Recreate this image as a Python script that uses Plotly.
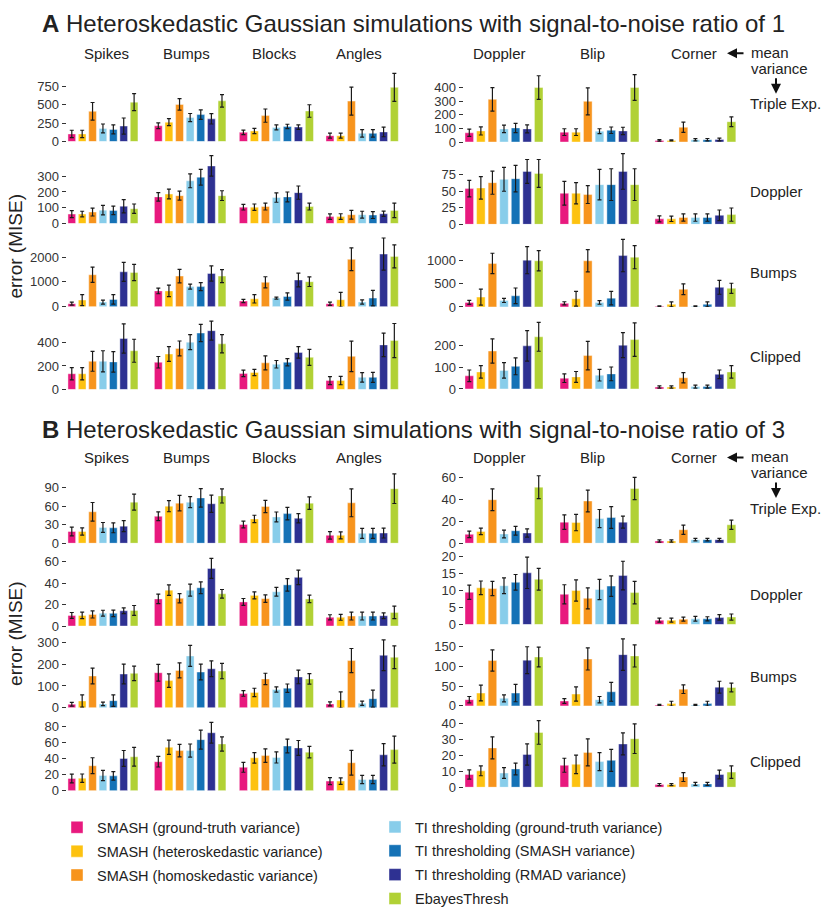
import plotly.graph_objects as go

methods = ["SMASH (ground-truth variance)", "SMASH (heteroskedastic variance)",
           "SMASH (homoskedastic variance)", "TI thresholding (ground-truth variance)",
           "TI thresholding (SMASH variance)", "TI thresholding (RMAD variance)", "EbayesThresh"]
colors = ["#E8197E", "#FDC210", "#F7941D", "#88CDEA", "#1572B6", "#2E3192", "#B1D135"]
test_functions = ["Spikes", "Bumps", "Blocks", "Angles", "Doppler", "Blip", "Corner"]
variance_functions = ["Triple Exp.", "Doppler", "Bumps", "Clipped"]

# ---- SNR = 1 (panel A): one list of 7 method values per test function ----
a_triple_mean = [[103, 103, 410, 178, 165, 210, 535], [214, 263, 504, 326, 366, 308, 553],
                 [125, 143, 352, 192, 205, 196, 415], [80, 80, 549, 111, 111, 130, 736],
                 [68, 82, 315, 97, 104, 97, 402], [73, 73, 300, 80, 87, 82, 402],
                 [12, 12, 109, 17, 17, 19, 150]]
a_triple_err = [[50, 50, 120, 60, 60, 110, 115], [40, 48, 78, 55, 65, 70, 85],
                [30, 36, 90, 33, 30, 30, 85], [35, 35, 190, 50, 50, 65, 190],
                [27, 30, 87, 28, 34, 30, 87], [25, 25, 100, 18, 24, 27, 95],
                [5, 4, 38, 8, 9, 10, 36]]
a_doppler_mean = [[60, 60, 73, 85, 83, 110, 94], [169, 187, 177, 271, 294, 365, 177],
                  [104, 104, 108, 165, 169, 196, 108], [44, 44, 56, 56, 54, 62, 83],
                  [54, 55, 63, 68, 69, 80, 77], [47, 47, 45, 60, 60, 80, 60],
                  [8.3, 8.3, 10.3, 10.3, 10.3, 13.7, 14.7]]
a_doppler_err = [[22, 18, 25, 30, 27, 42, 30], [27, 31, 29, 44, 50, 65, 31],
                 [18, 20, 22, 30, 31, 42, 22], [17, 18, 28, 22, 22, 17, 46],
                 [12.5, 17, 17.5, 18, 20, 18, 21], [18, 16, 13.5, 23, 24, 27, 24],
                 [4.5, 4, 5.5, 5.6, 5.6, 8, 10]]
a_bumps_mean = [[119, 265, 1287, 186, 292, 1407, 1380], [637, 637, 1234, 809, 809, 1340, 1234],
                [226, 318, 982, 345, 411, 1075, 1008], [119, 279, 1911, 186, 345, 2123, 2030],
                [99, 213, 943, 142, 241, 1014, 1000], [78, 177, 1000, 99, 191, 1113, 1078],
                [14, 57, 383, 14, 57, 425, 404]]
a_bumps_err = [[60, 220, 310, 80, 190, 385, 330], [115, 230, 270, 100, 165, 310, 260],
               [65, 170, 225, 40, 145, 280, 195], [65, 300, 460, 85, 310, 650, 465],
               [45, 175, 220, 45, 170, 295, 220], [35, 160, 240, 40, 145, 350, 250],
               [10, 55, 115, 8, 55, 150, 110]]
a_clipped_mean = [[134, 134, 240, 240, 235, 434, 330], [232, 302, 350, 403, 481, 501, 389],
                  [137, 145, 227, 215, 232, 316, 274], [76, 76, 282, 103, 103, 380, 417],
                  [61, 79, 176, 86, 105, 200, 242], [50, 56, 155, 64, 70, 203, 229],
                  [9, 9, 52, 11, 11, 68, 79]]
a_clipped_err = [[52, 52, 85, 90, 88, 125, 98], [49, 63, 63, 64, 74, 81, 78],
                 [28, 27, 60, 32, 31, 49, 68], [34, 36, 130, 41, 43, 100, 145],
                 [27, 29, 56, 36, 39, 71, 67], [20, 25, 66, 27, 32, 58, 78],
                 [5, 5, 24, 7, 7, 20, 29]]

# ---- SNR = 3 (panel B) ----
b_triple_mean = [[19, 19, 51, 25.6, 25, 27.7, 66.6], [43.7, 60, 65, 66.6, 73.5, 64, 76.7],
                 [30.4, 39.4, 59.6, 42.6, 48, 40.5, 65], [12.8, 12.8, 65.5, 16, 16, 16.5, 88.4],
                 [8.2, 10.9, 40, 8.5, 11.5, 9.4, 51.5], [19.4, 19, 38.8, 22.7, 23.6, 19.4, 50.3],
                 [2.1, 2.1, 12.4, 3.3, 3.3, 3.3, 17]]
b_triple_err = [[7, 6, 15, 8, 8, 9, 13], [7, 9, 12.5, 9, 15, 14, 11.5],
                [5.6, 6, 10, 8, 10, 7.5, 10], [6, 5.6, 22.6, 8, 8, 8, 24],
                [3, 3, 10, 3.5, 4, 3.8, 10.5], [6.7, 7.5, 10, 8.3, 10, 5.6, 10.3],
                [1, 1, 4.2, 1.2, 1.2, 1.2, 4.2]]
b_doppler_mean = [[9.9, 9.9, 10.8, 12, 11.8, 14.2, 14.5], [25.2, 33.4, 25.8, 33.4, 35.6, 53.6, 30],
                  [22.4, 28.5, 25.5, 31.9, 38.3, 45.3, 25.2], [8.1, 8.1, 9.3, 9.3, 9.3, 9.6, 12.7],
                  [9.5, 10.8, 10.6, 11.4, 12.4, 15.2, 13.3], [8.9, 10, 7.7, 10.3, 11.3, 14.4, 9.4],
                  [1.3, 1.3, 1.6, 1.7, 1.7, 2.1, 2.2]]
b_doppler_err = [[2.7, 3, 3.3, 2.7, 3, 2.7, 4.6], [4.4, 4.9, 4.3, 5.5, 5.5, 9.3, 4],
                 [3.2, 3.2, 3.4, 4.1, 5.8, 6.7, 3.5], [2.4, 2.7, 3.7, 3.7, 3.7, 2.7, 5.8],
                 [2.1, 2, 2.1, 2.3, 2.3, 4.6, 3.2], [2.8, 3.1, 3.1, 3, 3, 4.2, 3.3],
                 [0.6, 0.6, 0.6, 0.7, 0.6, 0.8, 0.9]]
b_bumps_mean = [[16.5, 31.5, 145.5, 18, 33, 154.5, 157.5], [160.5, 124.5, 171, 237, 163.5, 178.5, 168],
                [66, 70.5, 132, 84, 90, 141, 132], [18, 36, 216, 21, 42, 240, 231],
                [15.8, 32.5, 115, 19.2, 32.5, 116, 124], [12.5, 30, 119, 15.8, 35.8, 130, 126.7],
                [2.5, 5.8, 42.5, 2.5, 5.8, 47.5, 46.7]]
b_bumps_err = [[9, 28, 36, 8, 26, 45, 33], [38, 31, 34, 48, 36, 36, 35],
               [13, 19, 26, 12, 19, 31, 24], [9, 37, 55, 10, 39, 70, 52],
               [8, 20, 27, 9, 22, 34, 25], [6, 18, 28, 8, 24, 40, 28],
               [1.5, 6, 11, 1.5, 6, 15, 11]]
b_clipped_mean = [[15.3, 15.7, 31.3, 19, 18.6, 40.4, 42.5], [36.3, 54.4, 50.3, 50.3, 64, 72.6, 58.6],
                  [29.3, 41.2, 44, 41.7, 56, 53.6, 48.3], [12, 12, 35, 14, 14, 45, 51.5],
                  [8, 10.3, 24.7, 8.9, 11.5, 20.6, 34.4], [13.8, 14.4, 21.9, 16.1, 16.9, 27.2, 30.5],
                  [1.65, 1.65, 6.4, 2.1, 2.1, 8, 9.5]]
b_clipped_err = [[5.4, 5.2, 10, 6.4, 5.4, 10, 11.8], [6.6, 9, 7.8, 8.2, 12, 13, 8.9],
                 [6.2, 6.6, 8.5, 7, 8.7, 9.3, 7.2], [4.3, 4, 15.5, 5.2, 5.2, 14, 17],
                 [2.9, 3.1, 6.9, 3.4, 3.7, 6.7, 7.4], [4.4, 5.8, 8.5, 5.7, 6.9, 6.9, 9.3],
                 [0.7, 0.6, 2.8, 1, 1, 2.7, 3.9]]

# y tick values, [left group, right group] per variance row
a_ticks = [[[0, 250, 500, 750], [0, 100, 200, 300, 400]], [[0, 100, 200, 300], [0, 25, 50, 75]],
           [[0, 1000, 2000], [0, 500, 1000]], [[0, 200, 400], [0, 100, 200]]]
b_ticks = [[[0, 30, 60, 90], [0, 20, 40, 60]], [[0, 20, 40, 60], [0, 5, 10, 15, 20]],
           [[0, 100, 200, 300], [0, 50, 100, 150]], [[0, 20, 40, 60, 80], [0, 10, 20, 30, 40]]]

# ---------------- layout geometry (pixels) ----------------
W, H = 833, 915
FONT = "Liberation Sans, Arial, Helvetica, sans-serif"
col_px = [(66.6, 139.3), (153, 227.3), (237.9, 314.9), (324.6, 399.7),
          (463.5, 544.5), (558.5, 640.5), (653.4, 737.4)]
# (top px, zero px, y max) for [left, right] group per row
a_geom = [[(66, 138.5, 971), (66, 139, 531)], [(150, 221.7, 448), (150, 222.5, 108)],
          [(234, 306, 2866), (234, 306.3, 1544)], [(318, 390, 605), (318, 389.5, 327)]]
b_geom = [[(474, 546, 115), (474, 546, 65.2)], [(558, 630, 66), (557, 628.5, 20.7)],
          [(641, 713, 324), (640, 711, 177.5)], [(725, 797, 89), (722, 793.5, 44.3)]]


def px_x(v):
    return v / W


def px_y(v):
    return 1 - v / H


def note(text, x, y, size=15, xanchor="left", **kw):
    return dict(text=text, x=px_x(x), y=px_y(y), xref="paper", yref="paper",
                xanchor=xanchor, yanchor="middle", showarrow=False,
                font=dict(size=size, color="#222222", family=FONT), **kw)


def arrow(x, y, ax, ay):
    return dict(text="", x=px_x(x), y=px_y(y), xref="paper", yref="paper", ax=ax, ay=ay,
                showarrow=True, arrowhead=2, arrowsize=1, arrowwidth=2, arrowcolor="#111111")


panels = [
    ("A", "1", [(a_triple_mean, a_triple_err), (a_doppler_mean, a_doppler_err),
                (a_bumps_mean, a_bumps_err), (a_clipped_mean, a_clipped_err)], a_geom, a_ticks, 19, 49,
     [100, 189, 271, 357], 245),
    ("B", "3", [(b_triple_mean, b_triple_err), (b_doppler_mean, b_doppler_err),
                (b_bumps_mean, b_bumps_err), (b_clipped_mean, b_clipped_err)], b_geom, b_ticks, 431, 459,
     [511, 598, 681, 767], 638),
]

fig = go.Figure()
layout = {}
annotations = []
header_x = [106.7, 186, 274, 358.5, 499.7, 592.5, 693.8]

idx = 0
for p, (letter, snr, rows, geom, ticks, title_y, head_y, label_y, ytitle_y) in enumerate(panels):
    for r, (means, errs) in enumerate(rows):
        for c in range(7):
            idx += 1
            grp = 0 if c < 4 else 1
            top, zero, ymax = geom[r][grp]
            xa = "x" if idx == 1 else f"x{idx}"
            ya = "y" if idx == 1 else f"y{idx}"
            for m in range(7):
                fig.add_trace(go.Bar(
                    x=[methods[m]], y=[means[c][m]], xaxis=xa, yaxis=ya,
                    name=methods[m], legendgroup=methods[m], showlegend=(idx == 1),
                    legend="legend" if m < 3 else "legend2",
                    width=0.74, marker=dict(color=colors[m], line=dict(color="rgba(255,255,255,0.7)", width=0.6)),
                    error_y=dict(type="data", array=[errs[c][m]], color="#1a1a1a", thickness=1.2, width=2),
                    hovertemplate=f"{test_functions[c]} / {variance_functions[r]}<br>%{{x}}: %{{y}}<extra></extra>",
                ))
            first = c in (0, 4)
            layout["xaxis" if idx == 1 else f"xaxis{idx}"] = dict(
                domain=[px_x(col_px[c][0]), px_x(col_px[c][1])], anchor=ya,
                type="category", categoryorder="array", categoryarray=methods,
                range=[-0.5, 6.5], visible=False, fixedrange=True)
            layout["yaxis" if idx == 1 else f"yaxis{idx}"] = dict(
                domain=[px_y(zero), px_y(top)], anchor=xa, range=[0, ymax],
                tickvals=ticks[r][grp] if first else [], showticklabels=first,
                ticks="outside" if first else "", ticklen=4, tickwidth=1, tickcolor="#333333",
                tickfont=dict(size=13, color="#333333", family=FONT),
                showgrid=False, zeroline=False, showline=False, fixedrange=True)
    # panel title
    annotations.append(note(
        f"<b>{letter}</b> Heteroskedastic Gaussian simulations with signal-to-noise ratio of {snr}",
        40, title_y, size=24))
    for c, name in enumerate(test_functions):
        annotations.append(note(name, header_x[c], head_y, xanchor="center"))
    for r, name in enumerate(variance_functions):
        annotations.append(note(name, 748, label_y[r]))
    annotations.append(note("mean", 749, head_y - 1))
    annotations.append(note("variance", 749, head_y + 15))
    annotations.append(arrow(727, head_y, 18, 0))
    annotations.append(arrow(776, head_y + 41, 0, -17))
    annotations.append(note("error (MISE)", 16, ytitle_y, size=19, xanchor="center", textangle=-90))

layout.update(
    width=W, height=H, margin=dict(l=0, r=0, t=0, b=0),
    paper_bgcolor="white", plot_bgcolor="white", barmode="overlay",
    annotations=annotations,
    legend=dict(x=px_x(57), y=px_y(818), xanchor="left", yanchor="top", tracegroupgap=2,
                font=dict(size=14.5, color="#222222", family=FONT), bgcolor="rgba(0,0,0,0)"),
    legend2=dict(x=px_x(375), y=px_y(818), xanchor="left", yanchor="top", tracegroupgap=2,
                 font=dict(size=14.5, color="#222222", family=FONT), bgcolor="rgba(0,0,0,0)"),
)
fig.update_layout(**layout)
# the default page keeps an 8px body margin; drop it so the figure sits at the window's corner
fig.write_html("out.html", config={"displayModeBar": False},
               post_script="document.body.style.margin='0';")
